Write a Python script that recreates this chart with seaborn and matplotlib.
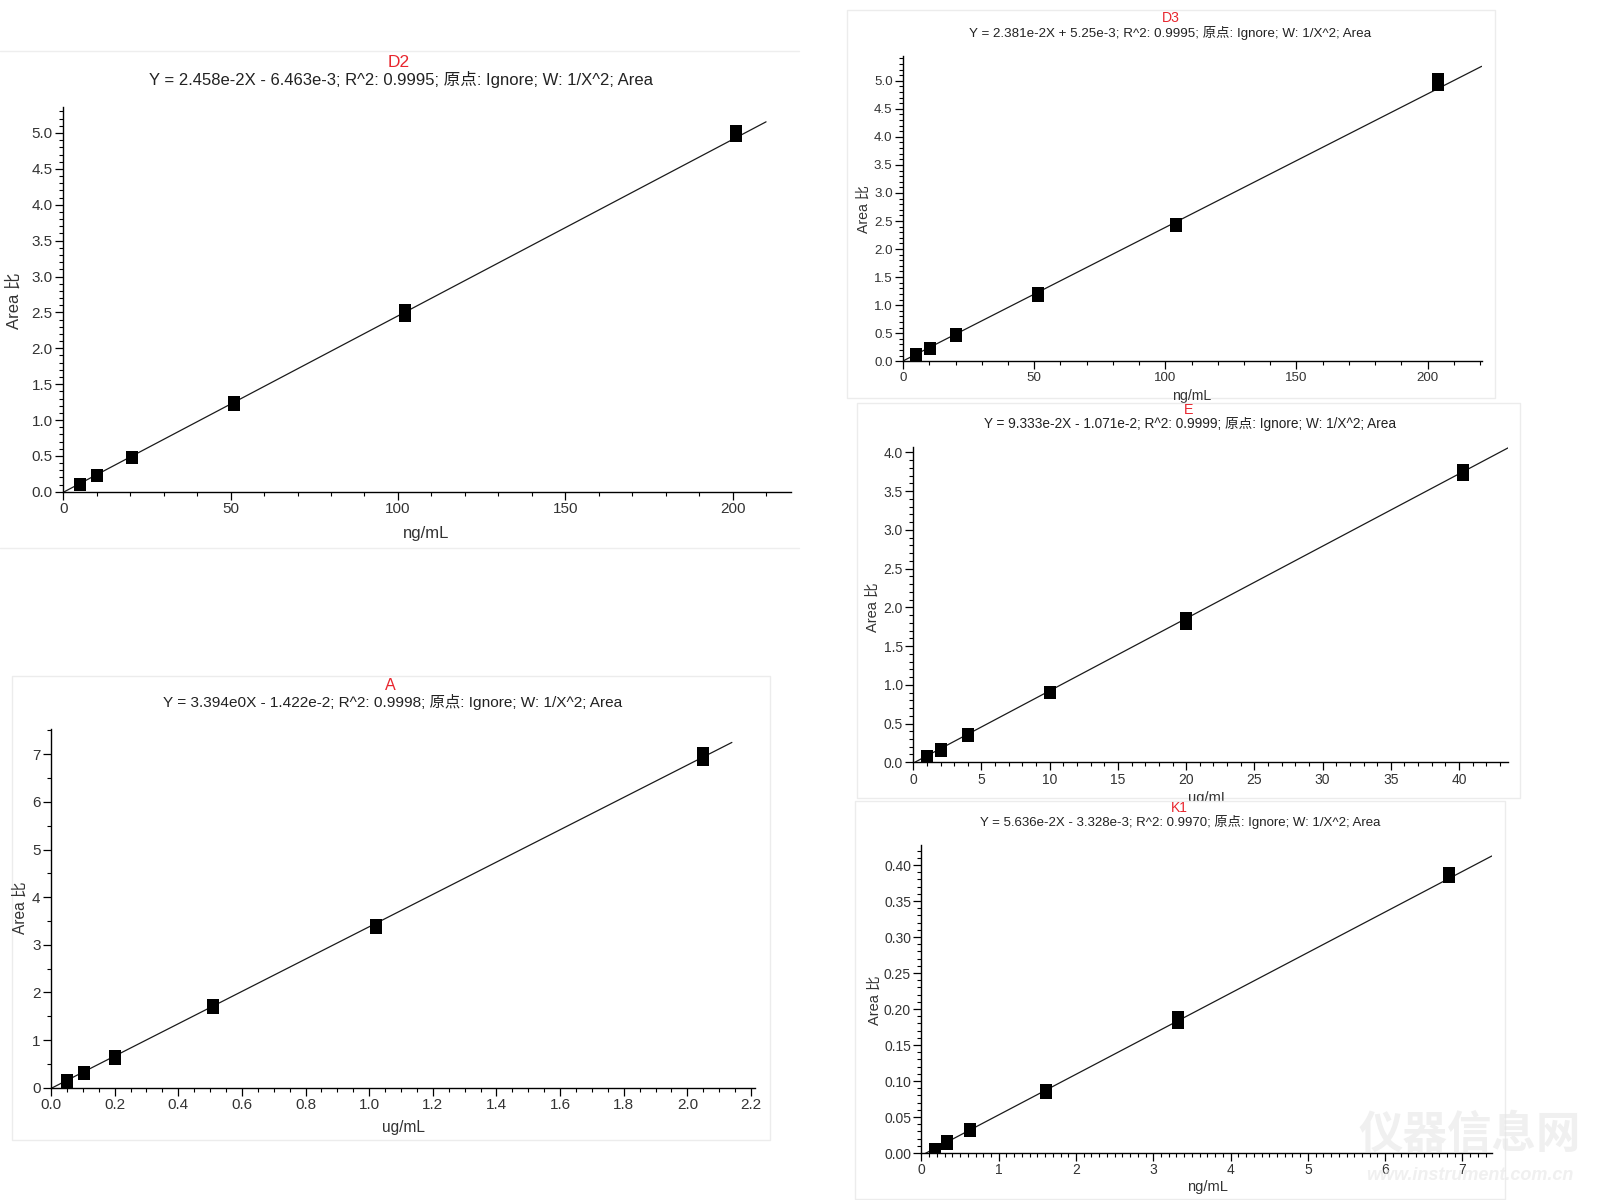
import numpy as np
import pandas as pd
import matplotlib
matplotlib.use("Agg")
import matplotlib.pyplot as plt
from matplotlib.ticker import MultipleLocator, FormatStrFormatter
from matplotlib.patches import Rectangle
import seaborn as sns

# ---------------- data ----------------
d2_conc = [5.1, 10.2, 20.4, 51.0, 102.0, 201.0]
d2_rep1 = [0.09, 0.22, 0.47, 1.21, 2.45, 4.96]
d2_rep2 = [0.11, 0.23, 0.49, 1.25, 2.53, 5.03]
d2_slope, d2_intercept = 2.458e-2, -6.463e-3
d2_fit_range = [0, 210]
d2_eq = "Y = 2.458e-2X - 6.463e-3; R^2: 0.9995; 原点: Ignore; W: 1/X^2; Area"

d3_conc = [5.06, 10.1, 20.2, 51.4, 103.9, 204.0]
d3_rep1 = [0.08, 0.21, 0.45, 1.17, 2.41, 4.92]
d3_rep2 = [0.12, 0.23, 0.48, 1.21, 2.45, 5.03]
d3_slope, d3_intercept = 2.381e-2, 5.25e-3
d3_fit_range = [0, 220.6]
d3_eq = "Y = 2.381e-2X + 5.25e-3; R^2: 0.9995; 原点: Ignore; W: 1/X^2; Area"

e_conc = [1.0, 2.0, 4.0, 10.0, 20.0, 40.3]
e_rep1 = [0.06, 0.14, 0.34, 0.89, 1.79, 3.71]
e_rep2 = [0.08, 0.17, 0.36, 0.91, 1.86, 3.77]
e_slope, e_intercept = 9.333e-2, -1.071e-2
e_fit_range = [0, 43.6]
e_eq = "Y = 9.333e-2X - 1.071e-2; R^2: 0.9999; 原点: Ignore; W: 1/X^2; Area"

a_conc = [0.051, 0.103, 0.202, 0.51, 1.023, 2.05]
a_rep1 = [0.12, 0.29, 0.61, 1.68, 3.35, 6.89]
a_rep2 = [0.16, 0.33, 0.66, 1.74, 3.41, 7.02]
a_slope, a_intercept = 3.394, -1.422e-2
a_fit_range = [0, 2.14]
a_eq = "Y = 3.394e0X - 1.422e-2; R^2: 0.9998; 原点: Ignore; W: 1/X^2; Area"

k1_conc = [0.17, 0.33, 0.63, 1.61, 3.32, 6.83]
k1_rep1 = [0.003, 0.013, 0.030, 0.084, 0.181, 0.383]
k1_rep2 = [0.006, 0.017, 0.033, 0.087, 0.189, 0.389]
k1_slope, k1_intercept = 5.636e-2, -3.328e-3
k1_fit_range = [0, 7.38]
k1_eq = "Y = 5.636e-2X - 3.328e-3; R^2: 0.9970; 原点: Ignore; W: 1/X^2; Area"

titles = ["D2", "D3", "E", "A", "K1"]
x_units = ["ng/mL", "ng/mL", "ug/mL", "ug/mL", "ng/mL"]
y_label = "Area 比"

# ---------------- style ----------------
sns.set_style("ticks")
plt.rcParams["font.family"] = ["Liberation Sans", "Noto Sans CJK SC", "DejaVu Sans"]
plt.rcParams["axes.unicode_minus"] = False

W, H = 1568.0, 1176.0  # reference-display pixel space used for layout
fig = plt.figure(figsize=(16, 12), dpi=100)
fig.patch.set_facecolor("white")


def fxy(px, py):
    return px / W, 1 - py / H


def frame(x0, y0, x1, y1, z, face="white", edge="#ececec"):
    l, t = fxy(x0, y0)
    r, b = fxy(x1, y1)
    fig.add_artist(Rectangle((l, b), r - l, t - b, transform=fig.transFigure,
                             facecolor=face, edgecolor=edge, lw=1.0, zorder=z))


# layout: (left, top, right, bottom) of the plot area, in reference pixels
panels = [
    dict(name=0, conc=d2_conc, r1=d2_rep1, r2=d2_rep2, slope=d2_slope, icpt=d2_intercept,
         fit=d2_fit_range, eq=d2_eq, box=(62, 105, 775, 482), xlim=217.4, ylim=5.36,
         xmaj=50, xmin=10, ymaj=0.5, ymin=0.1, xfmt="%d", yfmt="%.1f",
         title_xy=(391, 61), eq_xy=(393, 78), ylab_xy=(14, 295), xlab_xy=(418, 523),
         fs_tick=11.0, fs_eq=12.0, fs_lab=12.0, z=1),
    dict(name=1, conc=d3_conc, r1=d3_rep1, r2=d3_rep2, slope=d3_slope, icpt=d3_intercept,
         fit=d3_fit_range, eq=d3_eq, box=(885, 55, 1452, 354), xlim=220.6, ylim=5.44,
         xmaj=50, xmin=10, ymaj=0.5, ymin=0.1, xfmt="%d", yfmt="%.1f",
         title_xy=(1147, 18), eq_xy=(1147, 32), ylab_xy=(846, 205), xlab_xy=(1168, 388),
         fs_tick=9.6, fs_eq=9.6, fs_lab=10.2, z=1),
    dict(name=2, conc=e_conc, r1=e_rep1, r2=e_rep2, slope=e_slope, icpt=e_intercept,
         fit=e_fit_range, eq=e_eq, box=(895, 438, 1478, 747), xlim=43.6, ylim=4.07,
         xmaj=5, xmin=1, ymaj=0.5, ymin=0.1, xfmt="%d", yfmt="%.1f",
         title_xy=(1165, 402), eq_xy=(1166, 416), ylab_xy=(855, 595), xlab_xy=(1184, 782),
         fs_tick=10.0, fs_eq=9.8, fs_lab=10.5, z=3),
    dict(name=3, conc=a_conc, r1=a_rep1, r2=a_rep2, slope=a_slope, icpt=a_intercept,
         fit=a_fit_range, eq=a_eq, box=(50, 714, 740, 1066), xlim=2.213, ylim=7.54,
         xmaj=0.2, xmin=0.05, ymaj=1, ymin=0.5, xfmt="%.1f", yfmt="%d",
         title_xy=(383, 672), eq_xy=(385, 688), ylab_xy=(20, 890), xlab_xy=(395, 1105),
         fs_tick=11.0, fs_eq=11.1, fs_lab=11.2, z=1),
    dict(name=4, conc=k1_conc, r1=k1_rep1, r2=k1_rep2, slope=k1_slope, icpt=k1_intercept,
         fit=k1_fit_range, eq=k1_eq, box=(903, 828, 1462, 1130), xlim=7.38, ylim=0.428,
         xmaj=1, xmin=0.1, ymaj=0.05, ymin=0.01, xfmt="%d", yfmt="%.2f",
         title_xy=(1156, 792), eq_xy=(1157, 806), ylab_xy=(857, 980), xlab_xy=(1183, 1163),
         fs_tick=10.0, fs_eq=9.5, fs_lab=10.5, z=5),
]

# panel frames (faint borders like the pasted screenshots)
l0, t0 = fxy(0, 50)
r0, _ = fxy(783, 50)
_, b0 = fxy(0, 537)
fig.add_artist(plt.Line2D([l0, r0], [t0, t0], transform=fig.transFigure, color="#eeeeee", lw=1, zorder=0.5))
fig.add_artist(plt.Line2D([l0, r0], [b0, b0], transform=fig.transFigure, color="#eeeeee", lw=1, zorder=0.5))
frame(830, 10, 1465, 390, 0.5)
frame(12, 662, 755, 1117, 0.5)
frame(840, 395, 1490, 782, 2)
frame(838, 785, 1475, 1175, 4)

tick_color = "#333333"
for p in panels:
    x0, y0, x1, y1 = p["box"]
    l, t = fxy(x0, y0)
    r, b = fxy(x1, y1)
    ax = fig.add_axes([l, b, r - l, t - b], zorder=p["z"])
    ax.set_facecolor("none")

    n = len(p["conc"])
    df = pd.DataFrame({
        "conc": list(p["conc"]) * 2,
        "ratio": list(p["r1"]) + list(p["r2"]),
        "rep": ["1"] * n + ["2"] * n,
    })
    xl = np.array(p["fit"], dtype=float)
    yl = p["slope"] * xl + p["icpt"]
    sns.lineplot(x=xl, y=yl, color="#1a1a1a", lw=0.9, ax=ax, zorder=2)
    sns.scatterplot(data=df, x="conc", y="ratio", marker="s", s=72, color="black",
                    linewidth=0, ax=ax, zorder=3, legend=False)

    ax.set_xlim(0, p["xlim"])
    ax.set_ylim(0, p["ylim"])
    for s in ["top", "right"]:
        ax.spines[s].set_visible(False)
    for s in ["left", "bottom"]:
        ax.spines[s].set_color("black")
        ax.spines[s].set_linewidth(1.0)
    ax.xaxis.set_major_locator(MultipleLocator(p["xmaj"]))
    ax.xaxis.set_minor_locator(MultipleLocator(p["xmin"]))
    ax.yaxis.set_major_locator(MultipleLocator(p["ymaj"]))
    ax.yaxis.set_minor_locator(MultipleLocator(p["ymin"]))
    ax.xaxis.set_major_formatter(FormatStrFormatter(p["xfmt"]))
    ax.yaxis.set_major_formatter(FormatStrFormatter(p["yfmt"]))
    ax.tick_params(which="major", direction="out", length=5.5, width=0.9, color="black",
                   labelsize=p["fs_tick"], labelcolor=tick_color, pad=2)
    ax.tick_params(which="minor", direction="out", length=3, width=0.8, color="black")

    ax.set_xlabel(x_units[p["name"]], fontsize=p["fs_lab"], color=tick_color)
    ax.set_ylabel(y_label, fontsize=p["fs_lab"], color=tick_color)
    ax.xaxis.set_label_coords(*fxy(*p["xlab_xy"]), transform=fig.transFigure)
    ax.yaxis.set_label_coords(*fxy(*p["ylab_xy"]), transform=fig.transFigure)
    ax.xaxis.label.set_va("center")
    ax.yaxis.label.set_va("center")

    tx, ty = fxy(*p["title_xy"])
    ax.text(tx, ty, titles[p["name"]], transform=fig.transFigure, ha="center", va="center",
            color="#e8262e", fontsize=p["fs_eq"] + 0.5, clip_on=False)
    ex, ey = fxy(*p["eq_xy"])
    ax.text(ex, ey, p["eq"], transform=fig.transFigure, ha="center", va="center",
            color="#222222", fontsize=p["fs_eq"], clip_on=False)

# faint watermark of the source site
wx, wy = fxy(1440, 1112)
fig.text(wx, wy, "仪器信息网", fontsize=32, fontweight="bold", color="#e6e6e6",
         ha="center", va="center", alpha=0.6, zorder=10,
         family=["Noto Sans CJK SC", "DejaVu Sans"])
wx2, wy2 = fxy(1440, 1152)
fig.text(wx2, wy2, "www.instrument.com.cn", fontsize=13, fontweight="bold", style="italic",
         color="#e6e6e6", ha="center", va="center", alpha=0.6, zorder=10)

fig.savefig("out.png", dpi=100, facecolor="white")
